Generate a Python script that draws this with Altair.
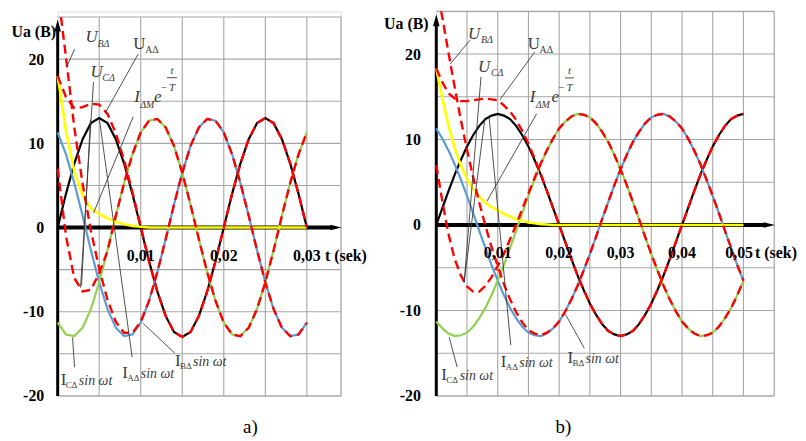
import altair as alt
import pandas as pd

FONT = "Liberation Serif"
RED, BLACK, BLUE, GREEN, YELLOW = "#FF0000", "#000000", "#5B9BD5", "#92D050", "#FFFF00"
GRID, INK = "#a6a6a6", "#3c3c3c"

# ---------------- panel a) : time in ms ----------------
t_a = list(range(0, 31))
A_a = [0.0, 4.0, 7.6, 10.5, 12.4, 13.0, 12.4, 10.5, 7.6, 4.0,
       0.0, -4.0, -7.6, -10.5, -12.4, -13.0, -12.4, -10.5, -7.6, -4.0,
       0.0, 4.0, 7.6, 10.5, 12.4, 13.0, 12.4, 10.5, 7.6, 4.0,
       0.0]
B_a = [11.3, 8.7, 5.3, 1.4, -2.7, -6.5, -9.7, -11.9, -12.9, -12.7,
       -11.3, -8.7, -5.3, -1.4, 2.7, 6.5, 9.7, 11.9, 12.9, 12.7,
       11.3, 8.7, 5.3, 1.4, -2.7, -6.5, -9.7, -11.9, -12.9, -12.7,
       -11.3]
C_a = [-11.3, -12.7, -12.9, -11.9, -9.7, -6.5, -2.7, 1.4, 5.3, 8.7,
       11.3, 12.7, 12.9, 11.9, 9.7, 6.5, 2.7, -1.4, -5.3, -8.7,
       -11.3, -12.7, -12.9, -11.9, -9.7, -6.5, -2.7, 1.4, 5.3, 8.7,
       11.3]
Y_a = [18.0, 11.5, 6.6, 3.8, 2.3, 1.6, 1.1, 0.7, 0.4, 0.2,
       0.1, 0.0, 0.0, 0.0, 0.0, 0.0, 0.0, 0.0, 0.0, 0.0,
       0.0, 0.0, 0.0, 0.0, 0.0, 0.0, 0.0, 0.0, 0.0, 0.0,
       0.0]
UA_a = [18.0, 15.5, 14.2, 14.3, 14.7, 14.6, 13.5, 11.2, 8.0, 4.2,
        0.1, -4.0, -7.6, -10.5, -12.4, -13.0, -12.4, -10.5, -7.6, -4.0,
        0.0, 4.0, 7.6, 10.5, 12.4, 13.0, 12.4, 10.5, 7.6, 4.0,
        0.0]
tUB_a = [0.4] + list(range(1, 31))
UB_a = [25.0, 20.2, 11.9, 5.2, -0.4, -4.9, -8.6, -11.2, -12.5, -12.5,
        -11.2, -8.7, -5.3, -1.4, 2.7, 6.5, 9.7, 11.9, 12.9, 12.7,
        11.3, 8.7, 5.3, 1.4, -2.7, -6.5, -9.7, -11.9, -12.9, -12.7,
        -11.3]
UC_a = [7.0, -1.0, -6.0, -7.6, -7.4, -5.4, -2.8, 1.4, 5.3, 8.7,
        11.3, 12.7, 12.9, 11.9, 9.7, 6.5, 2.7, -1.4, -5.3, -8.7,
        -11.3, -12.7, -12.9, -11.9, -9.7, -6.5, -2.7, 1.4, 5.3, 8.7,
        11.3]

# ---------------- panel b) ----------------
t_b = list(range(0, 51))
A_b = [0.0, 2.0, 4.0, 5.9, 7.6, 9.2, 10.5, 11.6, 12.4, 12.8,
       13.0, 12.8, 12.4, 11.6, 10.5, 9.2, 7.6, 5.9, 4.0, 2.0,
       0.0, -2.0, -4.0, -5.9, -7.6, -9.2, -10.5, -11.6, -12.4, -12.8,
       -13.0, -12.8, -12.4, -11.6, -10.5, -9.2, -7.6, -5.9, -4.0, -2.0,
       0.0, 2.0, 4.0, 5.9, 7.6, 9.2, 10.5, 11.6, 12.4, 12.8,
       13.0]
B_b = [11.3, 10.1, 8.7, 7.1, 5.3, 3.4, 1.4, -0.7, -2.7, -4.7,
       -6.5, -8.2, -9.7, -10.9, -11.9, -12.6, -12.9, -13.0, -12.7, -12.1,
       -11.3, -10.1, -8.7, -7.1, -5.3, -3.4, -1.4, 0.7, 2.7, 4.7,
       6.5, 8.2, 9.7, 10.9, 11.9, 12.6, 12.9, 13.0, 12.7, 12.1,
       11.3, 10.1, 8.7, 7.1, 5.3, 3.4, 1.4, -0.7, -2.7, -4.7,
       -6.5]
C_b = [-11.3, -12.1, -12.7, -13.0, -12.9, -12.6, -11.9, -10.9, -9.7, -8.2,
       -6.5, -4.7, -2.7, -0.7, 1.4, 3.4, 5.3, 7.1, 8.7, 10.1,
       11.3, 12.1, 12.7, 13.0, 12.9, 12.6, 11.9, 10.9, 9.7, 8.2,
       6.5, 4.7, 2.7, 0.7, -1.4, -3.4, -5.3, -7.1, -8.7, -10.1,
       -11.3, -12.1, -12.7, -13.0, -12.9, -12.6, -11.9, -10.9, -9.7, -8.2,
       -6.5]
Y_b = [18.3, 14.8, 11.6, 9.0, 7.0, 5.4, 4.2, 3.3, 2.6, 2.1,
       1.7, 1.3, 1.0, 0.7, 0.5, 0.3, 0.2, 0.1, 0.05, 0.0,
       0.0, 0.0, 0.0, 0.0, 0.0, 0.0, 0.0, 0.0, 0.0, 0.0,
       0.0, 0.0, 0.0, 0.0, 0.0, 0.0, 0.0, 0.0, 0.0, 0.0,
       0.0, 0.0, 0.0, 0.0, 0.0, 0.0, 0.0, 0.0, 0.0, 0.0,
       0.0]
UA_b = [18.3, 16.7, 15.4, 14.8, 14.5, 14.5, 14.6, 14.7, 14.8, 14.7,
        14.6, 14.0, 13.3, 12.3, 11.0, 9.5, 7.8, 6.0, 4.0, 2.0,
        0.0, -2.0, -4.0, -5.9, -7.6, -9.2, -10.5, -11.6, -12.4, -12.8,
        -13.0, -12.8, -12.4, -11.6, -10.5, -9.2, -7.6, -5.9, -4.0, -2.0,
        0.0, 2.0, 4.0, 5.9, 7.6, 9.2, 10.5, 11.6, 12.4, 12.8,
        13.0]
tUB_b = [0.8] + list(range(1, 51))
UB_b = [25.0, 24.2, 20.1, 16.1, 12.3, 8.8, 5.6, 2.6, -0.1, -2.6,
        -4.8, -6.9, -8.7, -10.2, -11.4, -12.3, -12.7, -12.9, -12.6, -12.1,
        -11.3, -10.1, -8.7, -7.1, -5.3, -3.4, -1.4, 0.7, 2.7, 4.7,
        6.5, 8.2, 9.7, 10.9, 11.9, 12.6, 12.9, 13.0, 12.7, 12.1,
        11.3, 10.1, 8.7, 7.1, 5.3, 3.4, 1.4, -0.7, -2.7, -4.7,
        -6.5]
UC_b = [7.0, 2.7, -1.1, -4.0, -5.9, -7.2, -7.8, -7.8, -7.1, -6.1,
        -4.8, -3.4, -1.7, 0.0, 1.9, 3.7, 5.5, 7.2, 8.75, 10.1,
        11.3, 12.1, 12.7, 13.0, 12.9, 12.6, 11.9, 10.9, 9.7, 8.2,
        6.5, 4.7, 2.7, 0.7, -1.4, -3.4, -5.3, -7.1, -8.7, -10.1,
        -11.3, -12.1, -12.7, -13.0, -12.9, -12.6, -11.9, -10.9, -9.7, -8.2,
        -6.5]

# ---------------- annotations (t in ms, value) ----------------
labels_a = [
    ("U", 3.35, 22.0, "it17"), ("BΔ", 4.79, 21.5, "it10"),
    ("U", 3.95, 17.9, "it17"), ("CΔ", 5.38, 17.4, "it10"),
    ("U", 9.09, 21.2, "up17"), ("AΔ", 10.53, 20.7, "up10"),
    ("I", 9.21, 14.9, "it17"), ("ΔM", 9.93, 14.2, "it10"), ("e", 11.61, 14.9, "it17"),
    ("−", 12.8, 16.6, "frac"), ("t", 13.76, 18.6, "frac"), ("T", 13.76, 16.6, "frac"),
    ("I", 0.36, -18.7, "up17"), ("CΔ", 0.96, -19.1, "up9"), ("sin ωt", 2.55, -18.7, "it14"),
    ("I", 7.78, -17.9, "up17"), ("AΔ", 8.38, -18.2, "up9"), ("sin ωt", 10.0, -17.9, "it14"),
    ("I", 14.12, -16.5, "up17"), ("BΔ", 14.72, -16.8, "up9"), ("sin ωt", 16.3, -16.5, "it14"),
]
leaders_a = [
    (2.03, 21.19, 1.08, 19.07), (4.31, 17.30, 2.75, -7.14), (3.95, 12.81, 2.87, -6.9),
    (9.69, 20.60, 5.74, 13.64), (9.09, 13.16, 4.31, 1.71), (8.97, -15.41, 5.03, 12.81),
    (2.03, -16.59, 1.79, -13.05), (14.12, -14.94, 10.29, -11.39),
    (13.16, 17.8, 14.36, 17.8),
]
labels_b = [
    ("U", 5.18, 21.74, "it17"), ("BΔ", 7.28, 21.28, "it10"),
    ("U", 6.79, 17.91, "it17"), ("CΔ", 8.9, 17.44, "it10"),
    ("U", 14.88, 20.58, "up17"), ("AΔ", 16.82, 20.12, "up10"),
    ("I", 15.21, 14.42, "it17"), ("ΔM", 16.18, 13.72, "it10"), ("e", 18.76, 14.42, "it17"),
    ("−", 20.38, 16.05, "frac"), ("t", 21.68, 18.02, "frac"), ("T", 21.68, 16.05, "frac"),
    ("I", 0.81, -18.14, "up17"), ("CΔ", 1.62, -18.49, "up9"), ("sin ωt", 3.8, -18.14, "it14"),
    ("I", 10.51, -16.63, "up17"), ("AΔ", 11.32, -16.98, "up9"), ("sin ωt", 13.5, -16.63, "it14"),
    ("I", 21.35, -16.16, "up17"), ("BΔ", 22.16, -16.51, "up9"), ("sin ωt", 24.3, -16.16, "it14"),
]
leaders_b = [
    (5.5, 21.63, 2.26, 18.84), (7.28, 17.33, 4.53, -6.74), (7.93, 12.56, 4.53, -6.74),
    (16.01, 20.23, 10.35, 14.65), (16.34, 13.02, 8.25, 2.79), (12.13, -14.07, 8.57, 12.79),
    (3.4, -16.63, 2.1, -13.14), (24.1, -14.42, 21.03, -10.47),
    (20.95, 17.21, 22.4, 17.21),
]
ticks_a = [10, 20, 30]
ticks_b = [10, 20, 30, 40, 49.3]
tick_text = ["0,01", "0,02", "0,03", "0,04", "0,05"]
grid_y = [-20, -15, -10, -5, 0, 5, 10, 15, 20, 25]

TEXT_STYLES = {
    "it17": dict(fontSize=17, fontStyle="italic", align="left", baseline="alphabetic"),
    "up17": dict(fontSize=17, align="left", baseline="alphabetic"),
    "it10": dict(fontSize=10, fontStyle="italic", align="left", baseline="alphabetic"),
    "up10": dict(fontSize=10, align="left", baseline="alphabetic"),
    "up9": dict(fontSize=9, align="left", baseline="alphabetic"),
    "it14": dict(fontSize=14, fontStyle="italic", align="left", baseline="alphabetic"),
    "frac": dict(fontSize=11, fontStyle="italic", align="center", baseline="middle"),
}


def panel(t, A, B, C, Y, UA, tUB, UB, UC, xmax, ydom, width, height, gx,
          ticks, tick_v, sek_t, cap, cap_t, cap_v, labels, leaders,
          arrow_x_t, arrow_y_v, axis_x_end, axis_y_end, title_x, title_y, lab_pad):
    yaxis = alt.Axis(values=[-20, -10, 0, 10, 20], labelExpr="'' + datum.value",
                     labelFont=FONT, labelFontWeight="bold", labelFontSize=16,
                     labelColor="black", labelPadding=lab_pad, ticks=False,
                     domain=False, grid=False, title="Ua (B)", titleAngle=0,
                     titleAlign="left", titleBaseline="middle", titleX=title_x,
                     titleY=title_y, titleFont=FONT, titleFontWeight="bold",
                     titleFontSize=16, titleColor="black")
    xs = alt.Scale(domain=[0, xmax], nice=False, zero=False)
    ys = alt.Scale(domain=ydom, nice=False, zero=False)
    X = alt.X("t:Q", scale=xs, axis=None)
    Yc = alt.Y("v:Q", scale=ys, axis=yaxis)

    gv = pd.DataFrame({"t": gx, "v": [-20] * len(gx), "v2": [25] * len(gx)})
    gh = pd.DataFrame({"v": grid_y, "t": [0] * len(grid_y), "t2": [xmax] * len(grid_y)})
    layers = [
        alt.Chart(gv).mark_rule(color=GRID, strokeWidth=1.1).encode(x=X, y=Yc, y2="v2:Q"),
        alt.Chart(gh).mark_rule(color=GRID, strokeWidth=1.1).encode(x=X, x2="t2:Q", y=Yc),
    ]
    axes = pd.DataFrame({"t": [0, 0], "t2": [axis_x_end, 0], "v": [0, -20],
                         "v2": [0, axis_y_end], "w": [4, 3]})
    layers.append(alt.Chart(axes).mark_rule(color=BLACK).encode(
        x=X, x2="t2:Q", y=Yc, y2="v2:Q", strokeWidth=alt.StrokeWidth("w:Q", scale=None)))
    layers.append(alt.Chart(pd.DataFrame({"t": [arrow_x_t], "v": [0]})).mark_point(
        shape="M -1 -0.5 L 1 0 L -1 0.5 Z", size=121, filled=True, color=BLACK,
        opacity=1).encode(x=X, y=Yc))
    layers.append(alt.Chart(pd.DataFrame({"t": [0], "v": [arrow_y_v]})).mark_point(
        shape="M -0.55 1 L 0 -1 L 0.55 1 Z", size=144, filled=True, color=BLACK,
        opacity=1).encode(x=X, y=Yc))

    sines = pd.DataFrame({"t": t * 3, "v": A + B + C,
                          "s": ["A"] * len(t) + ["B"] * len(t) + ["C"] * len(t)})
    layers.append(alt.Chart(sines).mark_line(strokeWidth=2.2).encode(
        x=X, y=Yc, color=alt.Color("s:N", scale=alt.Scale(domain=["A", "B", "C"],
                                   range=[BLACK, BLUE, GREEN]), legend=None)))
    layers.append(alt.Chart(pd.DataFrame({"t": t, "v": Y})).mark_line(
        color=YELLOW, strokeWidth=2.6).encode(x=X, y=Yc))
    red = pd.DataFrame({"t": t + tUB + t, "v": UA + UB + UC,
                        "s": ["UA"] * len(t) + ["UB"] * len(tUB) + ["UC"] * len(t)})
    layers.append(alt.Chart(red).mark_line(color=RED, strokeWidth=2.4,
                                           strokeDash=[9, 5]).encode(
        x=X, y=Yc, detail="s:N"))

    ld = pd.DataFrame(leaders, columns=["t", "v", "t2", "v2"])
    layers.append(alt.Chart(ld).mark_rule(color=INK, strokeWidth=0.9).encode(
        x=X, x2="t2:Q", y=Yc, y2="v2:Q"))

    lab = pd.DataFrame(labels, columns=["text", "t", "v", "kind"])
    for kind, st in TEXT_STYLES.items():
        sub = lab[lab["kind"] == kind]
        if len(sub):
            layers.append(alt.Chart(sub).mark_text(font=FONT, color=INK, **st).encode(
                x=X, y=Yc, text="text:N"))

    tk = pd.DataFrame({"t": ticks + [sek_t], "v": [tick_v] * (len(ticks) + 1),
                       "text": tick_text[:len(ticks)] + ["t (sek)"]})
    layers.append(alt.Chart(tk).mark_text(font=FONT, fontWeight="bold", fontSize=16,
                                          color=BLACK, align="center",
                                          baseline="middle").encode(
        x=X, y=Yc, text="text:N"))
    layers.append(alt.Chart(pd.DataFrame({"t": [cap_t], "v": [cap_v], "text": [cap]})).mark_text(
        font=FONT, fontSize=19, color=BLACK, align="center", baseline="middle").encode(
        x=X, y=Yc, text="text:N"))
    return alt.layer(*layers).properties(width=width, height=height)


pa = panel(t_a, A_a, B_a, C_a, Y_a, UA_a, tUB_a, UB_a, UC_a,
           xmax=34.1, ydom=[-20, 25.68], width=285, height=387,
           gx=[5, 10, 15, 20, 25, 30, 34.1], ticks=ticks_a, tick_v=-3.36, sek_t=34.7,
           cap="a)", cap_t=23.2, cap_v=-23.7, labels=labels_a, leaders=leaders_a,
           arrow_x_t=33.5, arrow_y_v=24.0, axis_x_end=33.0, axis_y_end=23.4,
           title_x=-47, title_y=20, lab_pad=14)
pb = panel(t_b, A_b, B_b, C_b, Y_b, UA_b, tUB_b, UB_b, UC_b,
           xmax=55.0, ydom=[-20, 25], width=340, height=387,
           gx=[5, 10, 15, 20, 25, 30, 35, 40, 45, 50, 55], ticks=ticks_b, tick_v=-3.26,
           sek_t=55.3, cap="b)", cap_t=20.7, cap_v=-23.64, labels=labels_b,
           leaders=leaders_b, arrow_x_t=54.2, arrow_y_v=23.95, axis_x_end=53.8,
           axis_y_end=23.3, title_x=-53, title_y=12, lab_pad=16)

chart = alt.hconcat(pa, pb, spacing=96, bounds="flush").resolve_scale(
    x="independent", y="independent", color="independent"
).properties(
    padding={"left": 2, "top": -4, "right": 0, "bottom": 0}
).configure_view(strokeWidth=0).configure(background="white")

chart.save("out.html", embed_options={"renderer": "svg", "actions": False})
